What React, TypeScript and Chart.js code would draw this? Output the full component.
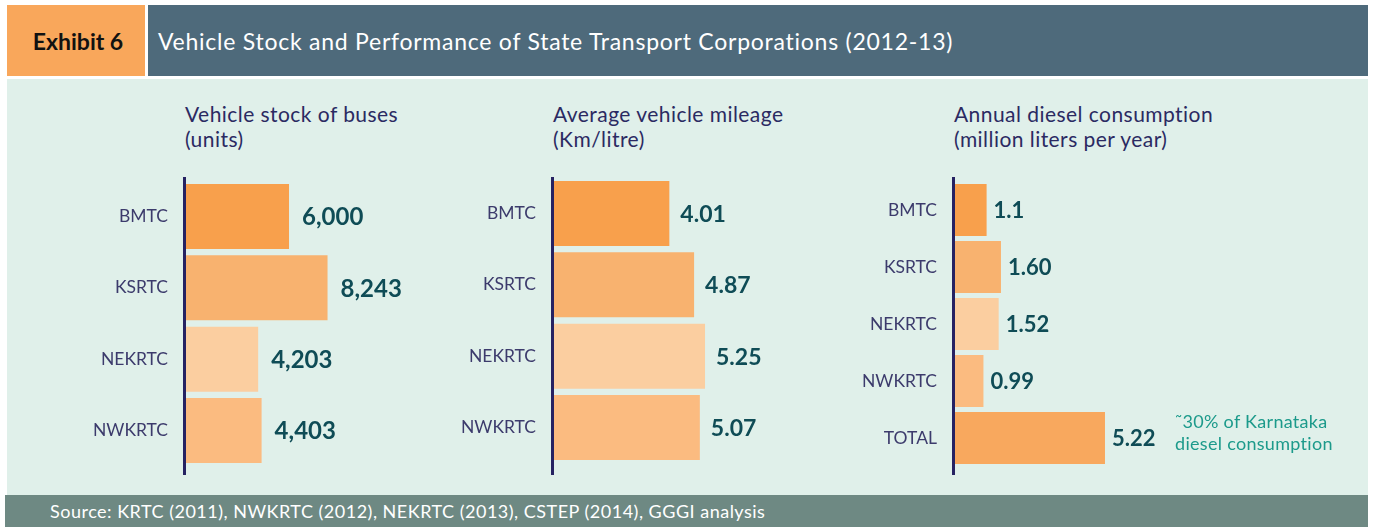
import React, { useEffect, useRef } from "react";
import { Chart, registerables } from "chart.js";

Chart.register(...registerables);

// ---------- data ----------
const categoriesOperators = ["BMTC", "KSRTC", "NEKRTC", "NWKRTC"];
const categoriesDiesel = ["BMTC", "KSRTC", "NEKRTC", "NWKRTC", "TOTAL"];

const busStock = [6000, 8243, 4203, 4403];
const busStockLabels = ["6,000", "8,243", "4,203", "4,403"];

const mileage = [4.01, 4.87, 5.25, 5.07];
const mileageLabels = ["4.01", "4.87", "5.25", "5.07"];

const dieselUse = [1.1, 1.6, 1.52, 0.99, 5.22];
const dieselLabels = ["1.1", "1.60", "1.52", "0.99", "5.22"];

const titleStock = ["Vehicle stock of buses", "(units)"];
const titleMileage = ["Average vehicle mileage", "(Km/litre)"];
const titleDiesel = ["Annual diesel consumption", "(million liters per year)"];
const dieselNote = ["˜30% of Karnataka", "diesel consumption"];

const headerLabel = "Exhibit 6";
const headerTitle = "Vehicle Stock and Performance of State Transport Corporations (2012-13)";
const sourceText = "Source: KRTC (2011), NWKRTC (2012), NEKRTC (2013), CSTEP (2014), GGGI analysis";

// ---------- styles ----------
const colorsOperators = ["#f8a04c", "#f8b26f", "#fbcea0", "#fbbb80"];
const colorsDiesel = ["#f8a04c", "#f8b26f", "#fbcea0", "#fbbb80", "#f8a85e"];
const NAVY = "#262262";
const TICK_COLOR = "#3c3b6c";
const VALUE_COLOR = "#0f4c56";
const FONT = "Lato, 'Open Sans', sans-serif";

const barDecor = {
  id: "barDecor",
  afterDatasetsDraw(chart: any, _args: any, opts: any) {
    const ctx = chart.ctx;
    const area = chart.chartArea;
    ctx.save();
    ctx.fillStyle = NAVY;
    ctx.fillRect(area.left - 3, opts.lineTop, 3, opts.lineBottom - opts.lineTop);
    const meta = chart.getDatasetMeta(0);
    ctx.font = opts.font;
    ctx.fillStyle = VALUE_COLOR;
    ctx.textBaseline = "middle";
    ctx.textAlign = "left";
    meta.data.forEach((bar: any, i: number) => {
      ctx.fillText(opts.labels[i], bar.x + opts.gap, bar.y + 1);
    });
    ctx.restore();
  },
};

type BarProps = {
  left: number;
  top: number;
  width: number;
  height: number;
  axisWidth: number;
  padTop: number;
  padBottom: number;
  padRight: number;
  categories: string[];
  values: number[];
  valueLabels: string[];
  colors: string[];
  max: number;
  barPct: number;
  valueFont: string;
  gap: number;
  lineTop: number;
  lineBottom: number;
};

function BarChart(p: BarProps) {
  const ref = useRef<HTMLCanvasElement | null>(null);
  useEffect(() => {
    if (!ref.current) return;
    const chart = new Chart(ref.current, {
      type: "bar",
      data: {
        labels: p.categories,
        datasets: [
          {
            data: p.values,
            backgroundColor: p.colors,
            borderWidth: 0,
            barPercentage: p.barPct,
            categoryPercentage: 1,
          },
        ],
      },
      options: {
        indexAxis: "y",
        responsive: false,
        animation: false,
        devicePixelRatio: 1,
        layout: { padding: { top: p.padTop, bottom: p.padBottom, right: p.padRight, left: 0 } },
        plugins: {
          legend: { display: false },
          tooltip: { enabled: false },
          barDecor: {
            labels: p.valueLabels,
            font: p.valueFont,
            gap: p.gap,
            lineTop: p.lineTop,
            lineBottom: p.lineBottom,
          },
        } as any,
        scales: {
          x: { display: false, min: 0, max: p.max },
          y: {
            grid: { display: false, drawTicks: false },
            border: { display: false },
            ticks: {
              color: TICK_COLOR,
              font: { family: FONT, size: 17.5 },
              padding: 18,
            },
            afterFit: (axis: any) => {
              axis.width = p.axisWidth;
              axis.paddingTop = 0;
              axis.paddingBottom = 0;
            },
          },
        },
      },
      plugins: [barDecor],
    });
    return () => chart.destroy();
  }, []);
  return (
    <canvas
      ref={ref}
      width={p.width}
      height={p.height}
      style={{ position: "absolute", left: p.left, top: p.top, width: p.width, height: p.height }}
    />
  );
}

function Title({ left, lines }: { left: number; lines: string[] }) {
  return (
    <div
      style={{
        position: "absolute",
        left,
        top: 101,
        fontFamily: FONT,
        fontSize: 21,
        letterSpacing: "0.45px",
        lineHeight: "25px",
        color: "#2b2a62",
        whiteSpace: "nowrap",
      }}
    >
      {lines.map((l, i) => (
        <div key={i}>{l}</div>
      ))}
    </div>
  );
}

export default function App() {
  return (
    <div
      style={{
        position: "fixed",
        left: 0,
        top: 0,
        width: 1373,
        height: 527,
        background: "#ffffff",
        fontFamily: FONT,
        overflow: "hidden",
      }}
    >
      <div
        style={{
          position: "absolute",
          left: 7,
          top: 5,
          width: 138,
          height: 71,
          background: "#f9a75b",
          display: "flex",
          alignItems: "center",
          justifyContent: "center",
          fontWeight: 700,
          fontSize: 23,
          color: "#111",
          paddingLeft: 4,
          boxSizing: "border-box",
        }}
      >
        {headerLabel}
      </div>
      <div
        style={{
          position: "absolute",
          left: 148,
          top: 5,
          width: 1220,
          height: 71,
          background: "#4e6a7b",
          display: "flex",
          alignItems: "center",
          paddingLeft: 10,
          boxSizing: "border-box",
          fontSize: 23,
          letterSpacing: "0.75px",
          color: "#ffffff",
          whiteSpace: "nowrap",
        }}
      >
        {headerTitle}
      </div>
      <div
        style={{
          position: "absolute",
          left: 7,
          top: 79,
          width: 1361,
          height: 416,
          background: "#e0f0ea",
        }}
      />
      <div
        style={{
          position: "absolute",
          left: 5,
          top: 495,
          width: 1363,
          height: 32,
          background: "#6e8983",
          display: "flex",
          alignItems: "center",
          paddingLeft: 45,
          boxSizing: "border-box",
          fontSize: 18,
          letterSpacing: "0.5px",
          color: "#ffffff",
          whiteSpace: "nowrap",
        }}
      >
        {sourceText}
      </div>

      <Title left={185} lines={titleStock} />
      <Title left={553} lines={titleMileage} />
      <Title left={954} lines={titleDiesel} />

      <BarChart
        left={20}
        top={170}
        width={420}
        height={320}
        axisWidth={166}
        padTop={10.8}
        padBottom={23.8}
        padRight={82.3}
        categories={categoriesOperators}
        values={busStock}
        valueLabels={busStockLabels}
        colors={colorsOperators}
        max={10000}
        barPct={0.911}
        valueFont={`bold 24px ${FONT}`}
        gap={13}
        lineTop={7}
        lineBottom={305}
      />
      <BarChart
        left={390}
        top={170}
        width={420}
        height={320}
        axisWidth={164}
        padTop={7.8}
        padBottom={26.8}
        padRight={83.4}
        categories={categoriesOperators}
        values={mileage}
        valueLabels={mileageLabels}
        colors={colorsOperators}
        max={6}
        barPct={0.911}
        valueFont={`bold 23px ${FONT}`}
        gap={11}
        lineTop={7}
        lineBottom={305}
      />
      <BarChart
        left={790}
        top={170}
        width={570}
        height={320}
        axisWidth={165}
        padTop={11.5}
        padBottom={23.5}
        padRight={232.6}
        categories={categoriesDiesel}
        values={dieselUse}
        valueLabels={dieselLabels}
        colors={colorsDiesel}
        max={6}
        barPct={0.912}
        valueFont={`bold 22px ${FONT}`}
        gap={7}
        lineTop={7}
        lineBottom={305}
      />
      <div
        style={{
          position: "absolute",
          left: 1175,
          top: 410,
          fontSize: 18,
          letterSpacing: "0.3px",
          lineHeight: "22px",
          color: "#1c9a8b",
          whiteSpace: "nowrap",
        }}
      >
        {dieselNote.map((l, i) => (
          <div key={i}>{l}</div>
        ))}
      </div>
    </div>
  );
}
